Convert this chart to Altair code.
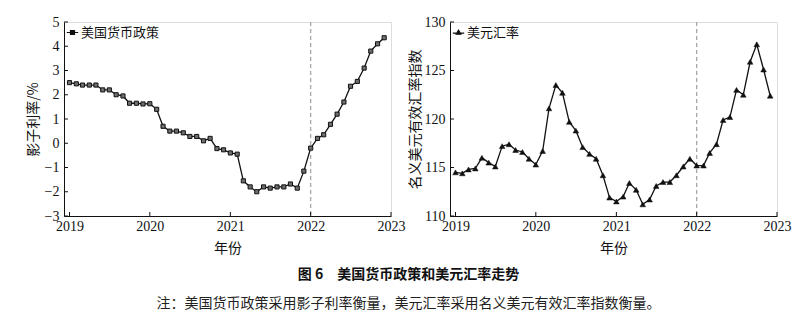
import altair as alt
import pandas as pd

SERIF = "'Liberation Serif', 'Times New Roman', 'Noto Sans CJK SC', serif"
CJK = "Noto Sans CJK SC"
INK = "#111111"

months = [f"{y}-{m:02d}-01" for y in range(2019, 2023) for m in range(1, 13)]
year_ticks = ["2019-01-01", "2020-01-01", "2021-01-01", "2022-01-01", "2023-01-01"]

shadow_rate = [2.5, 2.45, 2.4, 2.4, 2.4, 2.2, 2.2, 2.0, 1.95, 1.65, 1.65, 1.62,
               1.63, 1.4, 0.7, 0.5, 0.5, 0.43, 0.28, 0.28, 0.1, 0.2, -0.22, -0.27,
               -0.4, -0.45, -1.55, -1.8, -2.0, -1.8, -1.85, -1.8, -1.8, -1.68, -1.85, -1.15,
               -0.2, 0.2, 0.35, 0.78, 1.2, 1.7, 2.35, 2.55, 3.1, 3.8, 4.1, 4.35]
usd_index = [114.5, 114.4, 114.8, 114.9, 116.0, 115.5, 115.1, 117.2, 117.4, 116.8, 116.6, 115.9,
             115.3, 116.7, 121.1, 123.5, 122.7, 119.7, 118.8, 117.1, 116.4, 115.9, 114.2, 111.9,
             111.5, 112.0, 113.4, 112.7, 111.2, 111.7, 113.1, 113.5, 113.5, 114.2, 115.1, 115.9,
             115.2, 115.2, 116.5, 117.4, 119.9, 120.2, 123.0, 122.5, 125.9, 127.7, 125.1, 122.4]

left_ticks = [-3, -2, -1, 0, 1, 2, 3, 4, 5]
right_ticks = [110, 115, 120, 125, 130]

W, H = 327, 194
X_DOMAIN = [alt.DateTime(year=2018, month=12, date=7), alt.DateTime(year=2023, month=1, date=1)]


def panel(values, name, ydomain, yticks, ytitle, point_mark, legend_path, title_pad):
    df = pd.DataFrame({"date": months, "value": values, "series": name})
    xscale = alt.Scale(domain=X_DOMAIN)
    yscale = alt.Scale(domain=ydomain, nice=False, zero=False)
    xaxis = alt.Axis(values=[alt.DateTime(year=y, month=1, date=1) for y in range(2019, 2024)],
                     format="%Y", title="年份", titleFont=CJK, titleFontSize=14,
                     titleFontWeight="normal", titleColor=INK, titlePadding=8,
                     labelFont=SERIF, labelFontSize=14, labelColor=INK, labelPadding=3,
                     tickSize=0, domainColor=INK, domainWidth=1, grid=False,
                     labelFlush=False, labelOverlap=False)
    yaxis = alt.Axis(values=yticks, title=ytitle, titleFont=CJK, titleFontSize=14,
                     titleFontWeight="normal", titleColor=INK, titlePadding=title_pad,
                     labelFont=SERIF, labelFontSize=14, labelColor=INK, labelPadding=5,
                     tickSize=0, domainColor=INK, domainWidth=1, grid=False,
                     labelOverlap=False, labelFlush=False)
    x = alt.X("date:T", scale=xscale, axis=xaxis)
    y = alt.Y("value:Q", scale=yscale, axis=yaxis)
    base = alt.Chart(df)
    line = base.mark_line(strokeWidth=1.3).encode(
        x=x, y=y,
        color=alt.Color("series:N", scale=alt.Scale(range=[INK]),
                        legend=alt.Legend(title=None, orient="none", legendX=2, legendY=4,
                                          symbolType=legend_path, symbolSize=130,
                                          symbolStrokeWidth=1.2, symbolFillColor=INK,
                                          symbolStrokeColor=INK,
                                          labelFont=CJK, labelFontSize=13, labelColor=INK,
                                          labelOffset=2, padding=0)))
    pts = base.mark_point(**point_mark).encode(x=x, y=y)
    vline = alt.Chart(pd.DataFrame({"date": ["2022-01-01"]})).mark_rule(
        color="#a0a0a0", strokeDash=[4, 3], strokeWidth=1.2).encode(
        x=x, y=alt.value(0), y2=alt.value(H))
    xt = alt.Chart(pd.DataFrame({"date": year_ticks})).mark_rule(color=INK, strokeWidth=1).encode(
        x=x, y=alt.value(H), y2=alt.value(H - 4))
    yt = alt.Chart(pd.DataFrame({"value": yticks})).mark_rule(color=INK, strokeWidth=1).encode(
        y=y, x=alt.value(0), x2=alt.value(4))
    return alt.layer(line, vline, pts, xt, yt).properties(width=W, height=H)


left = panel(shadow_rate, "美国货币政策", [-3, 5], left_ticks, "影子利率/%",
             dict(shape="square", size=17, filled=True, fill="#6e6e6e", stroke=INK,
                  strokeWidth=1, opacity=1),
             "M-1,0H-0.35M0.35,0H1M-0.35,-0.35H0.35V0.35H-0.35Z", 4)
right = panel(usd_index, "美元汇率", [110, 130], right_ticks, "名义美元有效汇率指数",
              dict(shape="triangle-up", size=32, filled=True, fill=INK, stroke=INK,
                   strokeWidth=0.5, opacity=1),
              "M-1,0.1H-0.4M0.4,0.1H1M-0.42,0.3L0,-0.42L0.42,0.3Z", 2)

chart = alt.hconcat(left, right, spacing=1).resolve_scale(color="independent").resolve_legend(
    color="independent").properties(
    padding={"left": 25, "top": 14, "right": 5, "bottom": 5},
    title=alt.TitleParams(
        text="图 6　美国货币政策和美元汇率走势",
        subtitle="注：美国货币政策采用影子利率衡量，美元汇率采用名义美元有效汇率指数衡量。",
        orient="bottom", anchor="middle", font=CJK, fontSize=14, fontWeight="bold",
        color=INK, subtitleFont=CJK, subtitleFontSize=14, subtitleColor="#222222",
        subtitlePadding=15, offset=12)
).configure_view(stroke=None).configure_axis(labelOverlap=False).configure(background="white")

chart.save("out.html", embed_options={"renderer": "svg", "actions": False})
